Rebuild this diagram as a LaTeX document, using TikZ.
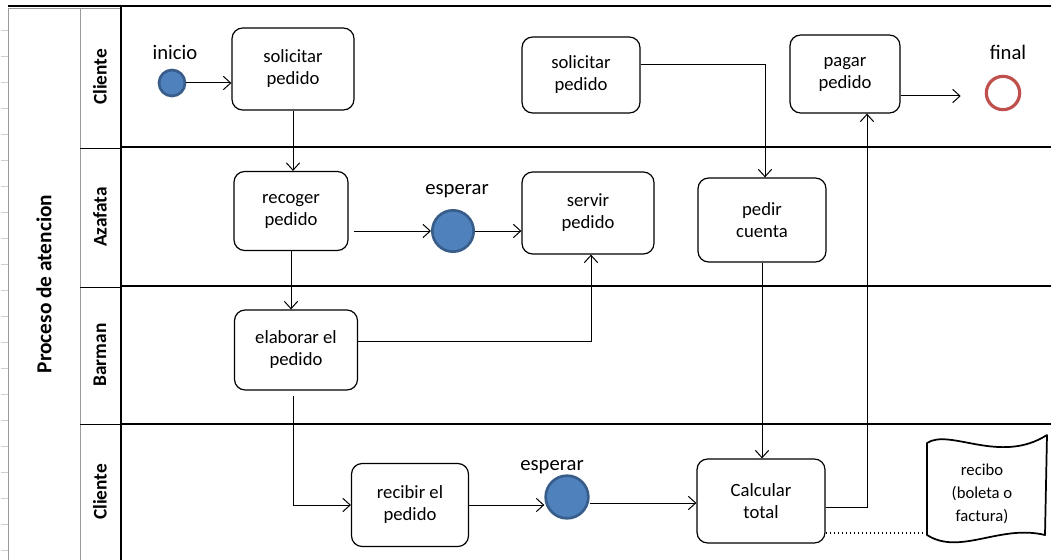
\documentclass[tikz,border=0pt]{standalone}
\usepackage{fontspec}
\setmainfont{Carlito}
\usetikzlibrary{arrows.meta,calc}
\definecolor{bluefill}{HTML}{4F81BD}
\definecolor{blueedge}{HTML}{385D8A}
\definecolor{redring}{HTML}{C0504D}
\definecolor{gridgray}{HTML}{9A9A9A}
\definecolor{tickgray}{HTML}{D0D0D0}
\begin{document}
\begin{tikzpicture}[x=0.75pt,y=-0.75pt,
  act/.style={draw, line width=0.9pt, rounded corners=8pt, fill=white, align=center,
    inner sep=0pt, font=\fontsize{14}{16.5}\selectfont},
  startev/.style={circle, fill=bluefill, draw=blueedge, line width=2pt, inner sep=0pt},
  endev/.style={circle, draw=redring, line width=2.4pt, fill=white, inner sep=0pt,
    minimum size=25pt},
  flow/.style={draw, line width=0.75pt, -{Straight Barb[length=5.5pt,width=10pt]}},
  lanesep/.style={line width=2.2pt},
  frame/.style={draw=gridgray, line width=0.6pt},
  lanelbl/.style={rotate=90, font=\fontsize{14.5}{16}\selectfont\bfseries},
  evlbl/.style={font=\fontsize{15.5}{17}\selectfont},
  doc/.style={align=center, font=\fontsize{12.5}{17.5}\selectfont, inner sep=0pt}]

\useasboundingbox (0,0) rectangle (1051,560);

% faint grid ticks along the left edge
\foreach \t in {30,56,82,108,134,160,186,212,238,264,290,316,342,368,394,420,446,472,498,524,550}
  \draw[tickgray, line width=0.5pt] (1,\t) -- (8,\t);

% pool and lane header columns
\draw[frame] (8,8) rectangle (80,562);
\draw[frame] (80,8) rectangle (120,562);
\foreach \y in {148,287,424}
  \draw[line width=0.6pt] (80,\y) -- (120,\y);

\node[rotate=90, font=\fontsize{16}{18}\selectfont\bfseries] (pool) at (44,284) {Proceso de atencion};
\node[lanelbl] (l1) at (100,77) {Cliente};
\node[lanelbl] (l2) at (100,217) {Azafata};
\node[lanelbl] (l3) at (100,355) {Barman};
\node[lanelbl] (l4) at (100,492) {Cliente};

% lane boundaries
\draw[lanesep] (8,6) -- (1051,6);
\draw[lanesep] (121,6) -- (121,562);
\foreach \y in {147,286,424}
  \draw[lanesep] (121,\y) -- (1051,\y);

% activities
\node[act, minimum width=122*0.75pt, minimum height=82*0.75pt] (sol1) at (293,69) {solicitar\\pedido};
\node[act, minimum width=118*0.75pt, minimum height=76*0.75pt] (sol2) at (581,75) {solicitar\\pedido};
\node[act, minimum width=110*0.75pt, minimum height=78*0.75pt] (pagar) at (845,74) {pagar\\pedido};
\node[act, minimum width=114*0.75pt, minimum height=79*0.75pt] (recoger) at (291,211) {recoger\\pedido};
\node[act, minimum width=132*0.75pt, minimum height=82*0.75pt] (servir) at (588,213) {servir\\pedido};
\node[act, minimum width=128*0.75pt, minimum height=84*0.75pt] (pedir) at (762,220) {pedir\\cuenta};
\node[act, minimum width=123*0.75pt, minimum height=80*0.75pt] (elab) at (296,350) {elaborar el\\pedido};
\node[act, minimum width=117*0.75pt, minimum height=83*0.75pt] (recibir) at (410,505) {recibir el\\pedido};
\node[act, minimum width=128*0.75pt, minimum height=84*0.75pt] (calc) at (761,501) {Calcular\\total};

% events
\node[startev, minimum size=19.5pt] (inicio) at (172,83) {};
\node[startev, minimum size=31pt] (esp1) at (453,231) {};
\node[startev, minimum size=32pt] (esp2) at (567,497) {};
\node[endev] (final) at (1003,93) {};

\node[evlbl] (tinicio) at (175,52) {inicio};
\node[evlbl] (tfinal) at (1008,52) {final};
\node[evlbl] (tesp1) at (457,191) {esperar};
\node[evlbl] (tesp2) at (552,467) {esperar};

% document
\node[doc] (recibo) at (982,494) {recibo\\(boleta o\\factura)};
\draw[line width=1.3pt, line join=round]
  (927,443) .. controls (950,428) and (1000,465) .. (1047,435)
  -- (1045,535)
  .. controls (1000,524) and (960,556) .. (927,535) -- cycle;
\coordinate (recW) at (925,533);

% sequence flows
\draw[flow] (inicio.east) -- (inicio.east -| sol1.west);
\draw[flow] (sol1.south) -- (sol1.south |- recoger.north);
\draw[flow, shorten <=4pt] (recoger.east |- esp1) -- (esp1.west);
\draw[flow] (esp1.east) -- (esp1.east -| servir.west);
\draw[flow] (recoger.south) -- (recoger.south |- elab.north);
\draw[flow] ([yshift=6.75pt]elab.east) -| ([xshift=2.25pt]servir.south);
\draw[flow, shorten <=4pt] ([xshift=-2.25pt]elab.south) |- (recibir.west);
\draw[flow] (recibir.east) -- (recibir.east -| esp2.west);
\draw[flow] ([yshift=-4.5pt]esp2.east) -- ([yshift=-4.5pt]esp2.east -| calc.west);
\draw[flow] ([yshift=7.5pt]sol2.east) -| ([xshift=2.25pt]pedir.north);
\draw[flow] (pedir.south) -- (pedir.south |- calc.north);
\draw[flow] ([yshift=-4.5pt]calc.east) -| ([xshift=16.5pt]pagar.south);
\draw[flow, shorten >=18pt] ([yshift=-16.5pt]pagar.east) -- ([yshift=-16.5pt]pagar.east -| final.west);
\draw[line width=1pt, dotted] ([yshift=-24pt]calc.east) -- (recW);
\end{tikzpicture}
\end{document}
